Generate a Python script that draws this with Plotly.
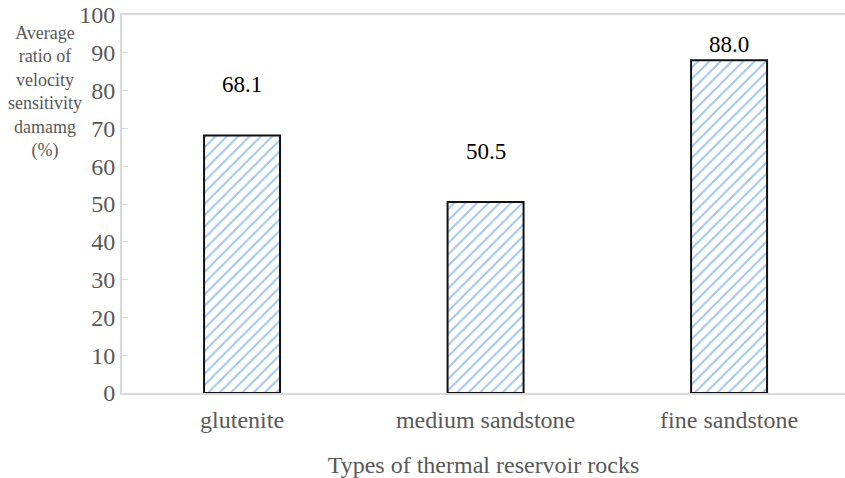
import plotly.graph_objects as go

categories = ["glutenite", "medium sandstone", "fine sandstone"]
values = [68.1, 50.5, 88.0]
value_labels = ["68.1", "50.5", "88.0"]
y_ticks = [0, 10, 20, 30, 40, 50, 60, 70, 80, 90, 100]

FONT = "Liberation Serif"
LABEL_OFFSET = 13.5   # value units above bar top
LABEL_MAX = 92.1      # labels kept inside the plot area

fig = go.Figure()
fig.add_trace(go.Bar(
    x=categories, y=values, width=0.312,
    marker=dict(
        color="white",
        line=dict(color="#111111", width=2),
        pattern=dict(shape="/", fgcolor="#3F8AD6", bgcolor="white", size=8, solidity=0.24),
    ),
))

annotations = [dict(
    text="Average<br>ratio of<br>velocity<br>sensitivity<br>damamg<br>(%)",
    xref="paper", yref="paper", x=-0.1065, y=0.985, xanchor="center", yanchor="top",
    showarrow=False, align="center",
    font=dict(family=FONT, size=18, color="#595959"),
)]
for c, v, t in zip(categories, values, value_labels):
    annotations.append(dict(
        x=c, y=min(v + LABEL_OFFSET, LABEL_MAX), xref="x", yref="y", text=t,
        showarrow=False, xanchor="center", yanchor="middle",
        font=dict(family=FONT, size=23, color="#000000"),
    ))

fig.update_layout(
    width=845, height=478,
    margin=dict(l=122, r=0, t=15, b=85),
    plot_bgcolor="white", paper_bgcolor="white",
    showlegend=False,
    font=dict(family=FONT, size=24, color="#595959"),
    xaxis=dict(
        range=[-0.493, 2.476], automargin=False,
        showline=True, linecolor="#D9D9D9", linewidth=2, mirror=True,
        ticks="", showgrid=False, ticklabelstandoff=4,
        tickfont=dict(family=FONT, size=24, color="#595959"),
        title=dict(text="Types of thermal reservoir rocks", standoff=24,
                   font=dict(family=FONT, size=24, color="#595959")),
    ),
    yaxis=dict(
        range=[0, 100], tickvals=y_ticks, automargin=False,
        showline=True, linecolor="#D9D9D9", linewidth=2,
        ticks="inside", ticklen=6, tickcolor="#D9D9D9", tickwidth=1,
        showgrid=False, zeroline=False, ticklabeloverflow="allow",
        tickfont=dict(family=FONT, size=24, color="#595959"),
    ),
    annotations=annotations,
)

fig.write_html("out.html", config={"displayModeBar": False},
               post_script="document.body.style.margin='0px';")
